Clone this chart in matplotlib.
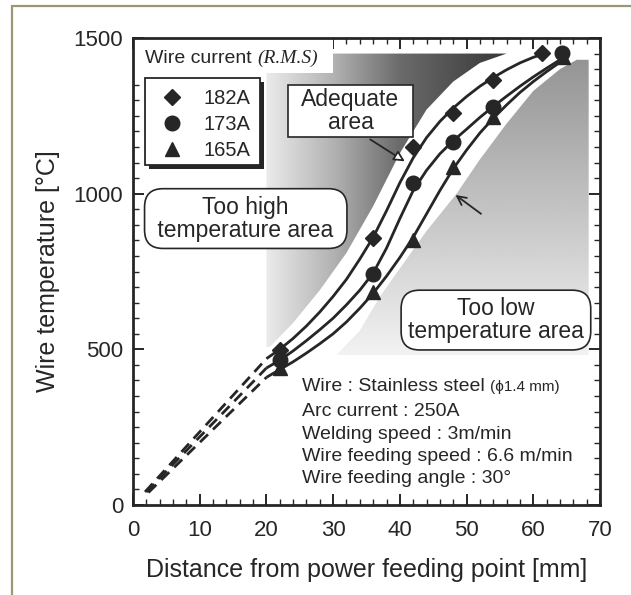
import numpy as np
import matplotlib as mpl; mpl.use("Agg")
import matplotlib.pyplot as plt
from matplotlib.patches import Polygon, Rectangle

plt.rcParams.update({"font.family": "Liberation Sans"})
INK = "#262626"

# measured wire temperatures, one list per wire current (R.M.S)
labels = ["182A", "173A", "165A"]
markers = ["D", "o", "^"]
x_182 = [22, 36, 42, 48, 54, 61.3]
y_182 = [498, 857, 1151, 1258, 1365, 1453]
x_173 = [22, 36, 42, 48, 54, 64.3]
y_173 = [466, 741, 1035, 1167, 1278, 1453]
x_165 = [22, 36, 42, 48, 54, 64.5]
y_165 = [440, 685, 851, 1087, 1247, 1440]

# fitted curves
cx_182 = [20, 22, 24, 26, 28, 30, 32, 34, 36, 38, 40, 42, 44, 46, 48, 50, 52, 54, 56, 58, 60, 62]
cy_182 = [470, 500, 535, 575, 620, 670, 725, 790, 860, 945, 1035, 1115, 1180, 1232, 1275, 1312,
          1345, 1373, 1398, 1420, 1438, 1452]
cx_173 = [20, 22, 24, 26, 28, 30, 32, 34, 36, 38, 40, 42, 44, 46, 48, 50, 52, 54, 56, 58, 60, 62, 64, 65]
cy_173 = [440, 465, 495, 528, 563, 600, 643, 690, 745, 825, 920, 1010, 1075, 1128, 1170, 1207,
          1245, 1280, 1313, 1345, 1375, 1403, 1430, 1445]
cx_165 = [20, 22, 24, 26, 28, 30, 32, 34, 36, 38, 40, 42, 44, 46, 48, 50, 52, 54, 56, 58, 60, 62, 64, 65]
cy_165 = [410, 435, 460, 488, 518, 550, 588, 632, 680, 735, 795, 860, 935, 1010, 1080, 1140,
          1195, 1242, 1285, 1325, 1360, 1392, 1422, 1435]
# dashed extrapolation toward the feeding point
dx_182, dy_182 = [1.8, 20], [42, 470]
dx_173, dy_173 = [2.0, 20], [42, 440]
dx_165, dy_165 = [2.3, 20], [40, 410]

# shaded areas (outline)
hi_area = [(20, 508), (20, 1450), (56, 1450), (52, 1420), (48, 1360), (44, 1270), (40, 1130),
           (36, 960), (32, 810), (28, 690), (24, 585), (20.5, 508)]
lo_area = [(30.5, 482), (34, 560), (37, 669), (40, 760), (44, 880), (48.5, 1000), (52, 1110),
           (56, 1225), (60, 1330), (64, 1400), (66.5, 1430), (68.3, 1430), (68.3, 482)]

fig = plt.figure(figsize=(6.31, 5.95), dpi=100)
fig.patch.set_facecolor("white")
fig.add_artist(Rectangle((12 / 631, -0.2), 1.2, 0.2 + 1 - 6 / 595, transform=fig.transFigure,
                         fill=False, ec="#9c9677", lw=1.6))
ax = fig.add_axes([133 / 631, 1 - 505 / 595, 467 / 631, 467 / 595])

# gradients clipped to the two areas
gx = np.linspace(20, 57, 300)
shade = np.interp(gx, [20, 30, 40, 56], [0.92, 0.70, 0.42, 0.22])
im = ax.imshow(np.tile(shade, (2, 1)), extent=[20, 57, 480, 1460], cmap="gray", vmin=0, vmax=1,
               aspect="auto", origin="lower", interpolation="bilinear", zorder=1)
p = Polygon(hi_area, closed=True, fc="none", ec="none")
ax.add_patch(p); im.set_clip_path(p)
gy = np.linspace(480, 1432, 300)
shade = np.interp(gy, [480, 1432], [0.95, 0.58])
im2 = ax.imshow(np.tile(shade[:, None], (1, 2)), extent=[30, 68.3, 480, 1432], cmap="gray",
                vmin=0, vmax=1, aspect="auto", origin="lower", interpolation="bilinear", zorder=1)
p2 = Polygon(lo_area, closed=True, fc="none", ec="none")
ax.add_patch(p2); im2.set_clip_path(p2)

for cx, cy, dx, dy in [(cx_182, cy_182, dx_182, dy_182), (cx_173, cy_173, dx_173, dy_173),
                       (cx_165, cy_165, dx_165, dy_165)]:
    ax.plot(cx, cy, color=INK, lw=2.0, zorder=3, solid_capstyle="butt")
    ax.plot(dx, dy, color=INK, lw=2.0, zorder=3, dashes=(4, 2.5))

handles = []
for xs, ys, m, lab in zip([x_182, x_173, x_165], [y_182, y_173, y_165], markers, labels):
    ms = {"D": 8, "o": 10.5, "^": 9.5}[m]
    h, = ax.plot(xs, ys, m, ms=ms, color=INK, ls="none", label=lab, zorder=5)
    handles.append(h)

ax.set_xlim(0, 70); ax.set_ylim(0, 1500)
ax.set_xticks(range(0, 71, 10)); ax.set_xticks(range(0, 71, 2), minor=True)
ax.set_yticks([0, 500, 1000, 1500]); ax.set_yticks(range(0, 1501, 50), minor=True)
ax.tick_params(which="both", direction="in", top=True, right=True, colors=INK, labelsize=16)
ax.tick_params(which="major", length=8, width=1.4, pad=7)
ax.tick_params(axis="x", which="major", pad=11)
ax.tick_params(which="minor", length=4, width=1.0)
for s in ax.spines.values():
    s.set_linewidth(2.0); s.set_color(INK)
ax.set_xlabel("Distance from power feeding point [mm]", fontsize=18, color=INK, labelpad=12)
ax.set_ylabel("Wire temperature [\u00b0C]", fontsize=18, color=INK, labelpad=10)

# legend block
ax.add_patch(Rectangle((0, 0.925), 0.428, 0.075, transform=ax.transAxes, fc="white", ec="none", zorder=2))
t = ax.text(0.026, 0.957, "Wire current ", transform=ax.transAxes, fontsize=14, color=INK,
            va="center", ha="left", zorder=6)
ax.annotate("(R.M.S)", xy=(1, 0.5), xycoords=t, va="center", ha="left", fontsize=14,
            family="Liberation Serif", style="italic", color=INK, zorder=6)
lx, ly, lw_, lh = 0.026, 0.914, 0.246, 0.186
ax.add_patch(Rectangle((lx + 0.009, ly - lh - 0.009), lw_, lh, transform=ax.transAxes,
                       fc=INK, ec="none", zorder=6))
ax.add_patch(Rectangle((lx, ly - lh), lw_, lh, transform=ax.transAxes, fc="white", ec=INK,
                       lw=1.3, zorder=7))
leg = ax.legend(handles=handles, loc="upper left", bbox_to_anchor=(lx, ly), frameon=False,
                fontsize=14.5, handlelength=1.6, handletextpad=0.75, labelspacing=0.35,
                borderpad=0.55, borderaxespad=0, numpoints=1, labelcolor=INK)
leg.set_zorder(8)

box = dict(fc="white", ec=INK, lw=1.2)
ax.add_patch(Rectangle((23.2, 1182), 18.8, 167, fc="white", ec=INK, lw=1.2, zorder=6))
ax.text(32.6, 1266, "Adequate\narea", fontsize=16.5, color=INK, ha="center", va="center",
        linespacing=1.0, zorder=7)
ax.text(16.9, 920, " Too high \n temperature area ", fontsize=16.5, color=INK, ha="center",
        va="center", linespacing=1.0, bbox=dict(boxstyle="round,pad=0.3,rounding_size=0.8", **box), zorder=6)
ax.text(54.4, 594, "Too low\ntemperature area", fontsize=16.5, color=INK, ha="center",
        va="center", linespacing=1.0, bbox=dict(boxstyle="round,pad=0.3,rounding_size=0.8", **box), zorder=6)
ax.annotate("", xy=(41.1, 1099), xytext=(35.2, 1179),
            arrowprops=dict(arrowstyle="-|>", fc="white", ec=INK, lw=1.3, mutation_scale=16), zorder=6)
ax.annotate("", xy=(48.0, 1001), xytext=(52.5, 930),
            arrowprops=dict(arrowstyle="->", color=INK, lw=1.3, mutation_scale=16), zorder=6)

info = ["Arc current : 250A", "Welding speed : 3m/min", "Wire feeding speed : 6.6 m/min",
        "Wire feeding angle : 30\u00b0"]
t1 = ax.text(25.3, 382, "Wire : Stainless steel ", fontsize=14, color=INK, va="center", zorder=6)
ax.annotate("(\u03d51.4 mm)", xy=(1, 0.45), xycoords=t1, va="center", ha="left", fontsize=11,
            color=INK, zorder=6)
for yy, s in zip([299, 228, 157, 84], info):
    ax.text(25.3, yy, s, fontsize=14, color=INK, va="center", zorder=6)

fig.savefig("out.png", dpi=100, facecolor="white")
